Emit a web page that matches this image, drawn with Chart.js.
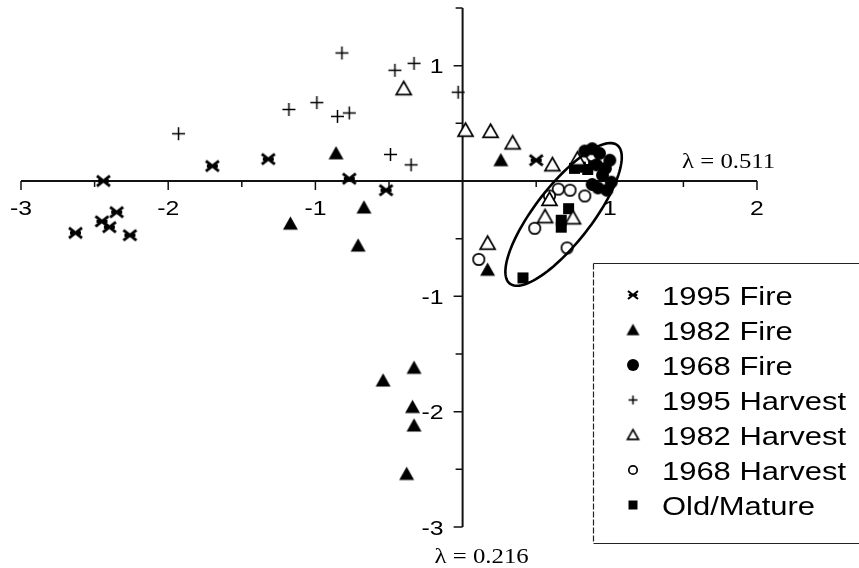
<!DOCTYPE html>
<html>
<head>
<meta charset="utf-8">
<script src="https://cdn.jsdelivr.net/npm/chart.js@4"></script>
<style>
  html, body { margin: 0; padding: 0; background: #fff; }
  #ordination { display: block; }
</style>
</head>
<body>
<canvas id="ordination" width="859" height="568"></canvas>
<script>
(function () {
  'use strict';

  // ── Site scores (axis 1, axis 2) ─────────────────────────────────────────
  const fire1995 = [[-2.44, 0.00], [-1.70, 0.13], [-1.32, 0.19], [-2.35, -0.27], [-2.45, -0.35],
    [-2.40, -0.40], [-2.63, -0.45], [-2.26, -0.47], [-0.77, 0.02], [-0.52, -0.08], [0.50, 0.18]];
  const fire1982 = [[-0.86, 0.24], [-0.67, -0.23], [-1.17, -0.37], [-0.71, -0.56], [0.26, 0.18],
    [0.17, -0.77], [-0.33, -1.62], [-0.54, -1.73], [-0.34, -1.96], [-0.33, -2.12], [-0.38, -2.54]];
  const fire1968 = [[0.83, 0.26], [0.93, 0.24], [1.00, 0.18], [0.95, 0.05], [1.01, -0.01],
    [0.92, -0.06], [0.98, -0.08], [0.88, 0.28], [0.91, 0.14], [0.97, 0.11], [0.88, -0.03]];
  const harvest1995 = [[-1.93, 0.41], [-0.82, 1.11], [-0.46, 0.96], [-0.33, 1.02], [-1.18, 0.62],
    [-0.99, 0.68], [-0.85, 0.56], [-0.77, 0.59], [-0.49, 0.23], [-0.35, 0.14], [-0.03, 0.77]];
  const harvest1982 = [[-0.40, 0.80], [0.02, 0.44], [0.19, 0.43], [0.34, 0.33], [0.61, 0.14],
    [0.78, 0.19], [0.59, -0.16], [0.56, -0.31], [0.75, -0.32], [0.17, -0.54]];
  const harvest1968 = [[0.65, -0.07], [0.73, -0.08], [0.83, -0.13], [0.59, -0.13], [0.49, -0.41],
    [0.71, -0.58], [0.11, -0.68], [0.88, 0.22]];
  const oldMature = [[0.72, -0.24], [0.67, -0.34], [0.67, -0.40], [0.41, -0.84], [0.76, 0.11],
    [0.85, 0.10], [0.89, 0.18], [0.80, 0.12]];

  const seriesNames = ['1995 Fire', '1982 Fire', '1968 Fire', '1995 Harvest', '1982 Harvest',
    '1968 Harvest', 'Old/Mature'];

  // axis ranges and labelled ticks
  const xRange = [-3, 2];
  const yRange = [-3, 1.5];
  const xTickLabels = [-3, -2, -1, 1, 2];
  const yTickLabels = [1, -1, -2, -3];
  const xAxisTitle = '\u03bb = 0.511';
  const yAxisTitle = '\u03bb = 0.216';

  // cluster ellipse: centre and two semi-axis vectors, in score units
  const ellipseCentre = [0.686, -0.29];
  const ellipseMajor = [0.365, 0.60];
  const ellipseMinor = [0.152, -0.150];

  // ── Marker drawing ──────────────────────────────────────────────────────
  function marker(kind, s) {
    const c = document.createElement('canvas');
    c.width = c.height = Math.ceil(s + 6);
    const g = c.getContext('2d');
    const m = c.width / 2;
    const r = s / 2;
    g.strokeStyle = '#000';
    g.fillStyle = '#000';
    g.lineCap = 'butt';
    if (kind === 'asterisk') {
      g.lineWidth = Math.max(2, s * 0.22);
      g.beginPath();
      g.moveTo(m - r, m - r * 0.8); g.lineTo(m + r, m + r * 0.8);
      g.moveTo(m - r, m + r * 0.8); g.lineTo(m + r, m - r * 0.8);
      g.moveTo(m - r * 0.85, m); g.lineTo(m + r * 0.85, m);
      g.stroke();
    } else if (kind === 'triangle' || kind === 'openTriangle') {
      const h = s * 0.88;
      g.beginPath();
      g.moveTo(m, m - h * 0.55);
      g.lineTo(m + r, m + h * 0.45);
      g.lineTo(m - r, m + h * 0.45);
      g.closePath();
      if (kind === 'triangle') { g.fill(); } else {
        g.fillStyle = '#fff'; g.fill(); g.lineWidth = 1.7; g.stroke();
      }
    } else if (kind === 'circle' || kind === 'openCircle') {
      g.beginPath();
      g.arc(m, m, kind === 'circle' ? r : r - 0.8, 0, Math.PI * 2);
      if (kind === 'circle') { g.fill(); } else {
        g.fillStyle = '#fff'; g.fill(); g.lineWidth = 1.7; g.stroke();
      }
    } else if (kind === 'plus') {
      g.lineWidth = 1.5;
      g.beginPath();
      g.moveTo(m - r, m); g.lineTo(m + r, m);
      g.moveTo(m, m - r); g.lineTo(m, m + r);
      g.stroke();
    } else if (kind === 'square') {
      g.fillRect(m - r, m - r, s, s);
    }
    return c;
  }

  const markerKinds = ['asterisk', 'triangle', 'circle', 'plus', 'openTriangle', 'openCircle', 'square'];
  const plotSizes = [13, 15, 13, 13, 15, 13, 11];
  const legendSizes = [10, 13, 12, 9, 11, 10, 9];
  const seriesData = [fire1995, fire1982, fire1968, harvest1995, harvest1982, harvest1968, oldMature];

  const datasets = seriesNames.map((name, i) => ({
    label: name,
    data: seriesData[i].map(([x, y]) => ({ x, y })),
    pointStyle: marker(markerKinds[i], plotSizes[i]),
    legendStyle: marker(markerKinds[i], legendSizes[i]),
    pointRadius: 7,
  }));

  // stretched text, the figure's lettering is set wide
  function wideText(g, text, x, y, font, align, sx) {
    g.save();
    g.font = font;
    g.fillStyle = '#000';
    g.textBaseline = 'alphabetic';
    const w = g.measureText(text).width * sx;
    let left = x;
    if (align === 'center') left = x - w / 2;
    else if (align === 'right') left = x - w;
    g.translate(left, y);
    g.scale(sx, 1);
    g.textAlign = 'left';
    g.fillText(text, 0, 0);
    g.restore();
  }

  // ── Axes crossing at the origin ─────────────────────────────────────────
  const originAxes = {
    id: 'originAxes',
    beforeDatasetsDraw(chart) {
      const g = chart.ctx;
      const xs = chart.scales.x;
      const ys = chart.scales.y;
      const x0 = xs.getPixelForValue(0);
      const y0 = ys.getPixelForValue(0);
      g.save();
      g.strokeStyle = '#111';
      g.lineWidth = 2;
      g.beginPath();
      g.moveTo(xs.getPixelForValue(xRange[0]), y0);
      g.lineTo(xs.getPixelForValue(xRange[1]), y0);
      g.moveTo(x0, ys.getPixelForValue(yRange[0]));
      g.lineTo(x0, ys.getPixelForValue(yRange[1]));
      g.stroke();

      g.lineWidth = 1.5;
      g.beginPath();
      xs.ticks.forEach((t) => {
        if (t.value === 0) return;
        const px = xs.getPixelForValue(t.value);
        const len = Number.isInteger(t.value) ? 9 : 6;
        g.moveTo(px, y0); g.lineTo(px, y0 + len);
      });
      ys.ticks.forEach((t) => {
        if (t.value === 0) return;
        const py = ys.getPixelForValue(t.value);
        const len = Number.isInteger(t.value) ? 9 : 7;
        g.moveTo(x0, py); g.lineTo(x0 - len, py);
      });
      g.stroke();
      g.restore();

      const tickFont = '21px "Liberation Sans", Arial, sans-serif';
      xTickLabels.forEach((v) => {
        wideText(g, String(v), xs.getPixelForValue(v), y0 + 34, tickFont, 'center', 1.18);
      });
      yTickLabels.forEach((v) => {
        wideText(g, String(v), x0 - 19, ys.getPixelForValue(v) + 7.5, tickFont, 'right', 1.18);
      });

      const titleFont = '21px "Liberation Serif", "Times New Roman", serif';
      wideText(g, xAxisTitle, xs.getPixelForValue(xRange[1]) - 75, y0 - 13, titleFont, 'left', 1.18);
      wideText(g, yAxisTitle, x0 - 28, ys.getPixelForValue(yRange[0]) + 36, titleFont, 'left', 1.18);
    },

    // ellipse round the older stands, then the legend box
    afterDatasetsDraw(chart) {
      const g = chart.ctx;
      const xs = chart.scales.x;
      const ys = chart.scales.y;
      g.save();
      g.strokeStyle = '#000';
      g.lineWidth = 2.6;
      g.beginPath();
      for (let k = 0; k <= 120; k++) {
        const t = (k / 120) * Math.PI * 2;
        const vx = ellipseCentre[0] + Math.cos(t) * ellipseMajor[0] + Math.sin(t) * ellipseMinor[0];
        const vy = ellipseCentre[1] + Math.cos(t) * ellipseMajor[1] + Math.sin(t) * ellipseMinor[1];
        const px = xs.getPixelForValue(vx);
        const py = ys.getPixelForValue(vy);
        if (k === 0) g.moveTo(px, py); else g.lineTo(px, py);
      }
      g.closePath();
      g.stroke();
      g.restore();

      // legend
      const box = { left: 593.5, top: 263.5, bottom: 543.5, right: 870 };
      g.save();
      g.fillStyle = '#fff';
      g.fillRect(box.left, box.top, box.right - box.left, box.bottom - box.top);
      g.strokeStyle = '#222';
      g.lineWidth = 1.2;
      g.beginPath();
      g.moveTo(box.right, box.top); g.lineTo(box.left, box.top);
      g.moveTo(box.left, box.bottom); g.lineTo(box.right, box.bottom);
      g.stroke();
      g.setLineDash([6, 2]);
      g.beginPath();
      g.moveTo(box.left, box.top); g.lineTo(box.left, box.bottom);
      g.stroke();
      g.restore();

      const legendFont = '26px "Liberation Sans", Arial, sans-serif';
      chart.data.datasets.forEach((ds, i) => {
        const cy = 295 + i * 35;
        const img = ds.legendStyle;
        g.drawImage(img, 633 - img.width / 2, cy - img.height / 2);
        wideText(g, ds.label, 662, cy + 9.5, legendFont, 'left', 1.19);
      });
    },
  };

  // ── Chart setup ─────────────────────────────────────────────────────────
  const ctx = document.getElementById('ordination').getContext('2d');
  new Chart(ctx, {
    type: 'scatter',
    data: { datasets },
    options: {
      responsive: false,
      animation: false,
      devicePixelRatio: 1,
      events: [],
      layout: { padding: { left: 21, right: 102, top: 8, bottom: 41 } },
      plugins: { legend: { display: false }, tooltip: { enabled: false } },
      scales: {
        x: { type: 'linear', min: xRange[0], max: xRange[1], display: false, ticks: { stepSize: 0.5 } },
        y: { type: 'linear', min: yRange[0], max: yRange[1], display: false, ticks: { stepSize: 0.5 } },
      },
    },
    plugins: [originAxes],
  });
})();
</script>
</body>
</html>
